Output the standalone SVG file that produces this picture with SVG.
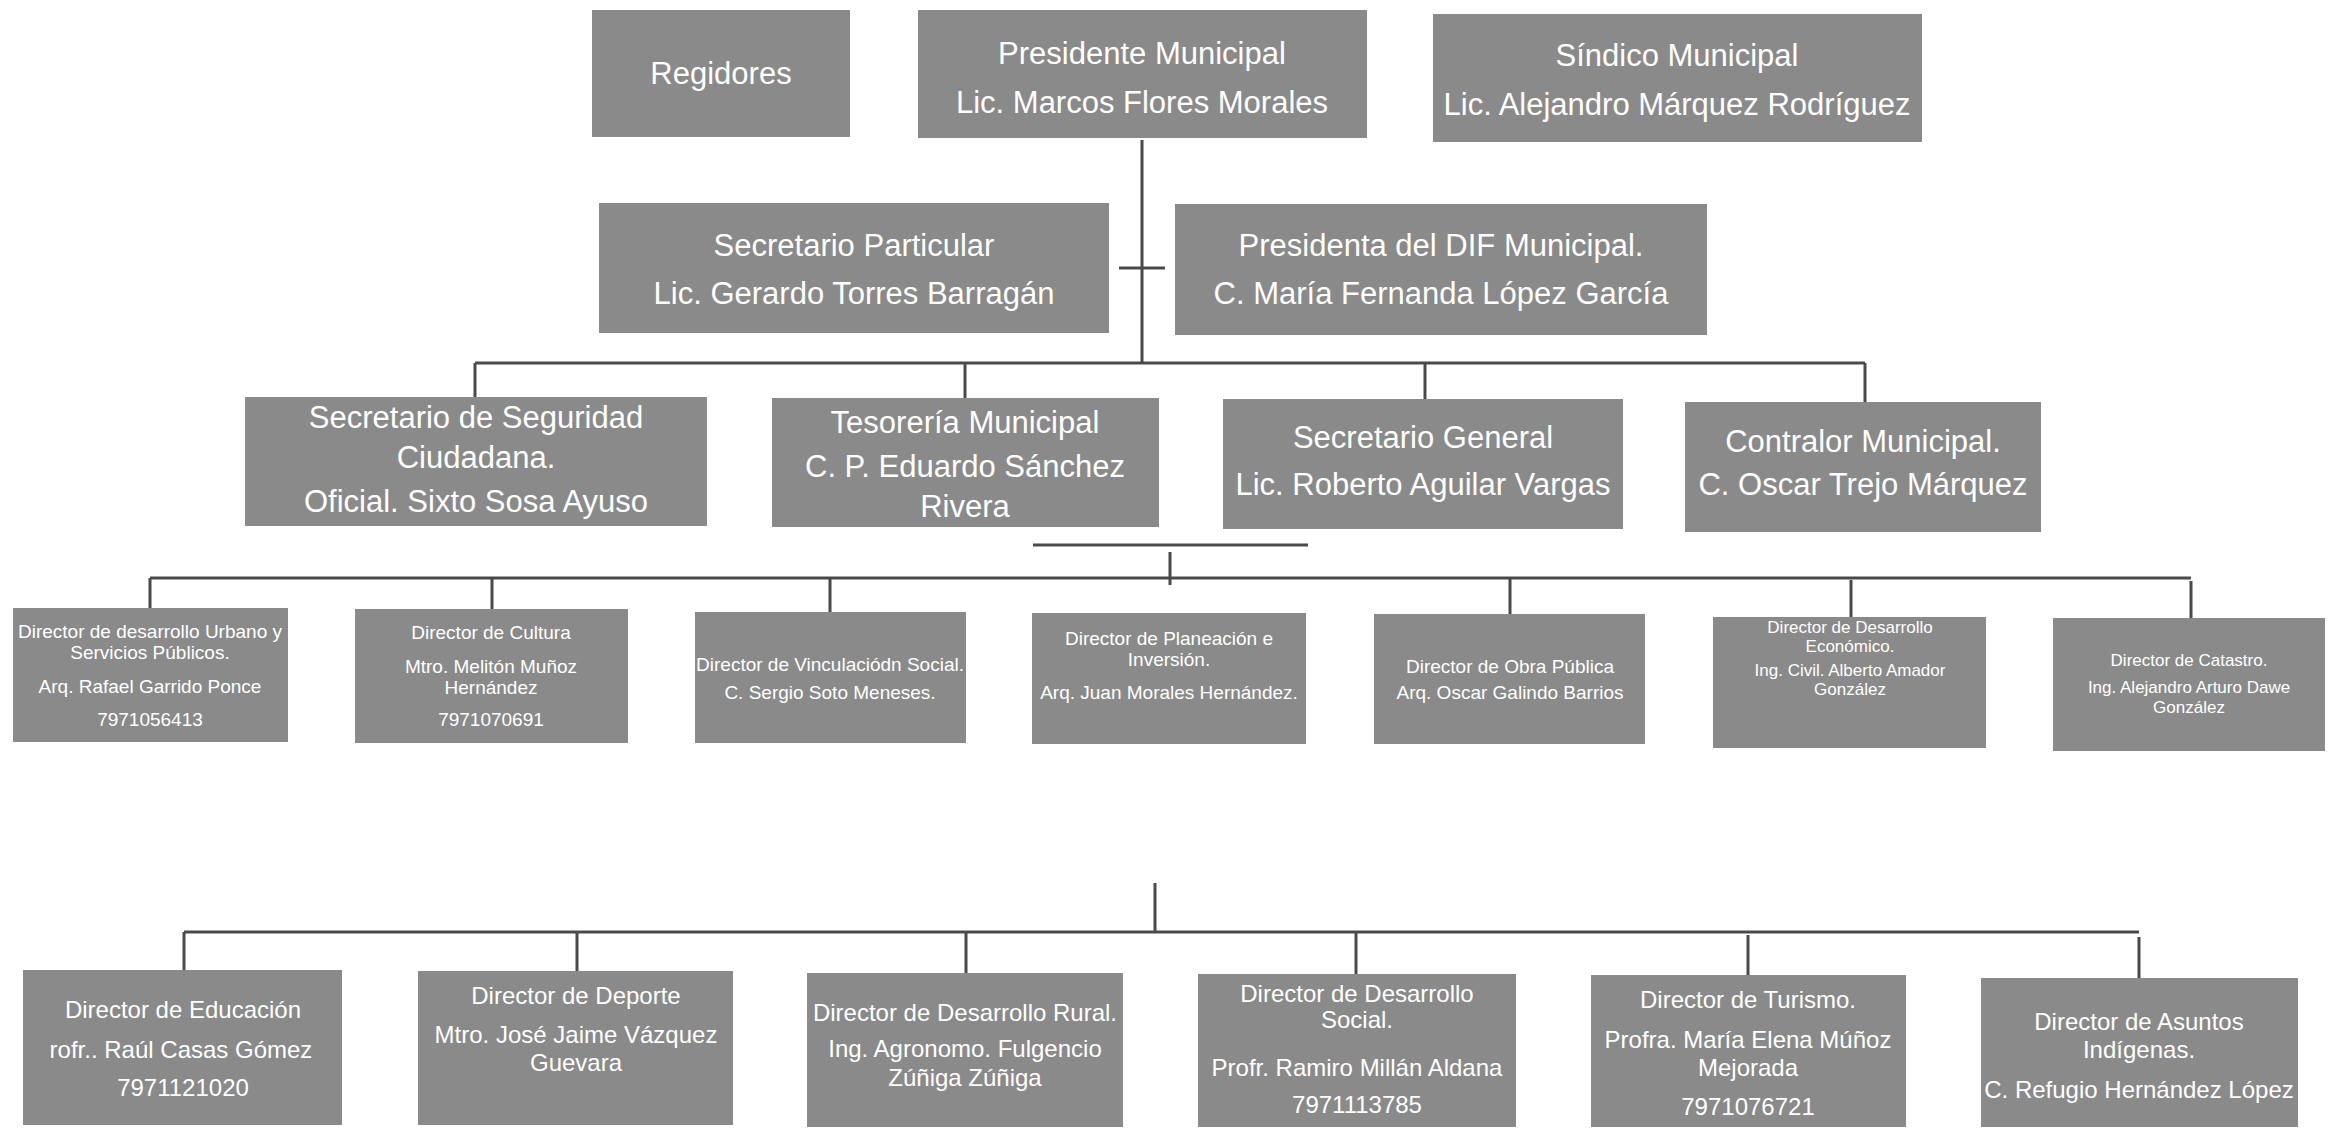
<svg xmlns="http://www.w3.org/2000/svg" width="2339" height="1128" viewBox="0 0 2339 1128">
<style>
.box{fill:#8a8a8a;}
.t{font-family:"Liberation Sans",Arial,sans-serif;fill:#ffffff;text-anchor:middle;}
.t1{font-size:31px;}
.t4{font-size:19px;}
.t4s{font-size:17px;}
.t5{font-size:24px;}
.ln{stroke:#4a4a4a;stroke-width:3;fill:none;}
</style>
<rect width="2339" height="1128" fill="#ffffff"/>
<g id="connectors">
<path class="ln" d="M1142 140 V363 M1119 268 H1165"/>
<path class="ln" d="M475 363 H1865 M475 363 V397 M965 363 V398 M1425 363 V400 M1865 363 V402"/>
<path class="ln" d="M1033 545 H1308 M1170 552 V585"/>
<path class="ln" d="M150 578 H2191 M150 578 V608 M492 578 V609 M830 578 V612 M1510 578 V614 M1851 580 V617 M2191 581 V618"/>
<path class="ln" d="M1155 883 V933"/>
<path class="ln" d="M184 932 H2139 M184 932 V970 M577 932 V971 M966 932 V973 M1356 933 V974 M1748 935 V975 M2139 937 V978"/>
</g>
<g id="regidores"><rect class="box" x="592" y="10" width="258" height="127"/>
<text class="t t1" x="721" y="84">Regidores</text></g>
<g id="presidente"><rect class="box" x="918" y="10" width="449" height="128"/>
<text class="t t1" x="1142" y="64">Presidente Municipal</text>
<text class="t t1" x="1142" y="113">Lic. Marcos Flores Morales</text></g>
<g id="sindico"><rect class="box" x="1433" y="14" width="489" height="128"/>
<text class="t t1" x="1677" y="66">Síndico Municipal</text>
<text class="t t1" x="1677" y="115">Lic. Alejandro Márquez Rodríguez</text></g>
<g id="secretario-particular"><rect class="box" x="599" y="203" width="510" height="130"/>
<text class="t t1" x="854" y="256">Secretario Particular</text>
<text class="t t1" x="854" y="304">Lic. Gerardo Torres  Barragán</text></g>
<g id="dif"><rect class="box" x="1175" y="204" width="532" height="131"/>
<text class="t t1" x="1441" y="256">Presidenta del DIF Municipal.</text>
<text class="t t1" x="1441" y="304">C. María Fernanda López García</text></g>
<g id="seguridad"><rect class="box" x="245" y="397" width="462" height="129"/>
<text class="t t1" x="476" y="428">Secretario de Seguridad</text>
<text class="t t1" x="476" y="468">Ciudadana.</text>
<text class="t t1" x="476" y="512">Oficial. Sixto Sosa Ayuso</text></g>
<g id="tesoreria"><rect class="box" x="772" y="398" width="387" height="129"/>
<text class="t t1" x="965" y="433">Tesorería Municipal</text>
<text class="t t1" x="965" y="477">C. P. Eduardo Sánchez</text>
<text class="t t1" x="965" y="517">Rivera</text></g>
<g id="secretario-general"><rect class="box" x="1223" y="399" width="400" height="130"/>
<text class="t t1" x="1423" y="448">Secretario General</text>
<text class="t t1" x="1423" y="495">Lic. Roberto Aguilar  Vargas</text></g>
<g id="contralor"><rect class="box" x="1685" y="402" width="356" height="130"/>
<text class="t t1" x="1863" y="452">Contralor Municipal.</text>
<text class="t t1" x="1863" y="495">C. Oscar Trejo Márquez</text></g>
<g id="urbano"><rect class="box" x="13" y="608" width="275" height="134"/>
<text class="t t4" x="150" y="638">Director de desarrollo Urbano y</text>
<text class="t t4" x="150" y="659">Servicios Públicos.</text>
<text class="t t4" x="150" y="693">Arq. Rafael Garrido Ponce</text>
<text class="t t4" x="150" y="726">7971056413</text></g>
<g id="cultura"><rect class="box" x="355" y="609" width="273" height="134"/>
<text class="t t4" x="491" y="639">Director de Cultura</text>
<text class="t t4" x="491" y="673">Mtro. Melitón Muñoz</text>
<text class="t t4" x="491" y="694">Hernández</text>
<text class="t t4" x="491" y="726">7971070691</text></g>
<g id="vinculacion"><rect class="box" x="695" y="612" width="271" height="131"/>
<text class="t t4" x="830" y="671">Director de Vinculaciódn Social.</text>
<text class="t t4" x="830" y="699">C. Sergio Soto Meneses.</text></g>
<g id="planeacion"><rect class="box" x="1032" y="613" width="274" height="131"/>
<text class="t t4" x="1169" y="645">Director de Planeación e</text>
<text class="t t4" x="1169" y="666">Inversión.</text>
<text class="t t4" x="1169" y="699">Arq. Juan Morales Hernández.</text></g>
<g id="obra"><rect class="box" x="1374" y="614" width="271" height="130"/>
<text class="t t4" x="1510" y="673">Director de Obra Pública</text>
<text class="t t4" x="1510" y="699">Arq. Oscar Galindo Barrios</text></g>
<g id="economico"><rect class="box" x="1713" y="617" width="273" height="131"/>
<text class="t t4s" x="1850" y="633">Director de Desarrollo</text>
<text class="t t4s" x="1850" y="652">Económico.</text>
<text class="t t4s" x="1850" y="676">Ing. Civil. Alberto Amador</text>
<text class="t t4s" x="1850" y="695">González</text></g>
<g id="catastro"><rect class="box" x="2053" y="618" width="272" height="133"/>
<text class="t t4s" x="2189" y="666">Director de Catastro.</text>
<text class="t t4s" x="2189" y="693">Ing. Alejandro  Arturo Dawe</text>
<text class="t t4s" x="2189" y="713">González</text></g>
<g id="educacion"><rect class="box" x="23" y="970" width="319" height="155"/>
<text class="t t5" x="183" y="1018">Director  de Educación</text>
<text class="t t5" x="181" y="1058">rofr.. Raúl Casas Gómez</text>
<text class="t t5" x="183" y="1096">7971121020</text></g>
<g id="deporte"><rect class="box" x="418" y="971" width="315" height="154"/>
<text class="t t5" x="576" y="1004">Director de  Deporte</text>
<text class="t t5" x="576" y="1043">Mtro. José Jaime Vázquez</text>
<text class="t t5" x="576" y="1071">Guevara</text></g>
<g id="rural"><rect class="box" x="807" y="973" width="316" height="154"/>
<text class="t t5" x="965" y="1021">Director  de Desarrollo Rural.</text>
<text class="t t5" x="965" y="1057">Ing. Agronomo. Fulgencio</text>
<text class="t t5" x="965" y="1086">Zúñiga Zúñiga</text></g>
<g id="social"><rect class="box" x="1198" y="974" width="318" height="153"/>
<text class="t t5" x="1357" y="1002">Director  de Desarrollo</text>
<text class="t t5" x="1357" y="1028">Social.</text>
<text class="t t5" x="1357" y="1076">Profr. Ramiro Millán Aldana</text>
<text class="t t5" x="1357" y="1113">7971113785</text></g>
<g id="turismo"><rect class="box" x="1591" y="975" width="315" height="152"/>
<text class="t t5" x="1748" y="1008">Director de Turismo.</text>
<text class="t t5" x="1748" y="1048">Profra. María Elena Múñoz</text>
<text class="t t5" x="1748" y="1076">Mejorada</text>
<text class="t t5" x="1748" y="1115">7971076721</text></g>
<g id="indigenas"><rect class="box" x="1981" y="978" width="317" height="149"/>
<text class="t t5" x="2139" y="1030">Director de Asuntos</text>
<text class="t t5" x="2139" y="1058">Indígenas.</text>
<text class="t t5" x="2139" y="1098">C. Refugio Hernández López</text></g>
</svg>
